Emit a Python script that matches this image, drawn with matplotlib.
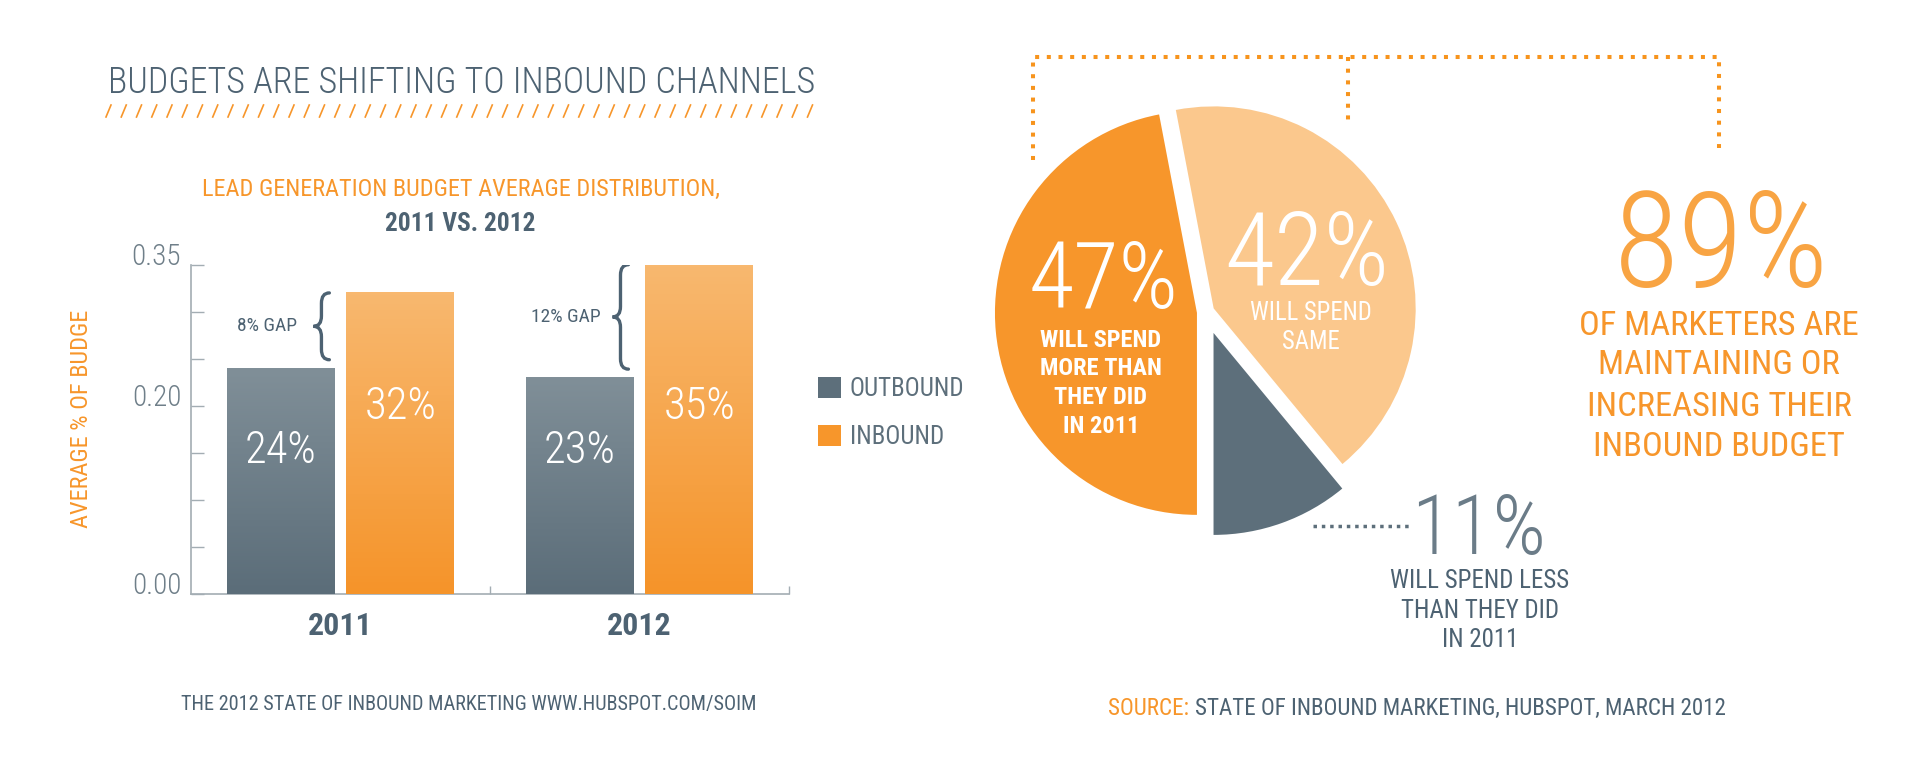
import numpy as np
import matplotlib.pyplot as plt
from matplotlib.colors import LinearSegmentedColormap
from matplotlib.path import Path
from matplotlib.patches import PathPatch

W, H = 1920, 758
plt.rcParams['font.family'] = ['Roboto Condensed', 'Liberation Sans Narrow', 'DejaVu Sans']

SLATE = '#4d6272'
GRAY = '#5d6f7b'
TICK = '#6f7f89'
ORANGE = '#f7962b'
LIGHT = '#fbc88d'
AXIS = '#a3adb3'

# bar chart data
years = ['2011', '2012']
outbound = [0.24, 0.23]
inbound = [0.32, 0.35]
yticks = [0.0, 0.20, 0.35]
yminor = [0.05, 0.10, 0.15, 0.25, 0.30]

# pie data : less, same, more
pie_values = [11, 42, 47]
pie_text = [['WILL SPEND LESS', 'THAN THEY DID', 'IN 2011'],
            ['WILL SPEND', 'SAME'],
            ['WILL SPEND', 'MORE THAN', 'THEY DID', 'IN 2011']]
claim = ['OF MARKETERS ARE', 'MAINTAINING OR', 'INCREASING THEIR', 'INBOUND BUDGET']

fig = plt.figure(figsize=(W / 100, H / 100), dpi=100)
fig.patch.set_facecolor('white')
R = fig.canvas.get_renderer()

# overlay in pixel coords for texts and decorations
ov = fig.add_axes([0, 0, 1, 1], zorder=10)
ov.set_xlim(0, W)
ov.set_ylim(H, 0)
ov.axis('off')


def fit(t, w, vertical=False):
    bb = t.get_window_extent(R)
    bw = bb.height if vertical else bb.width
    if bw > w:
        t.set_fontsize(t.get_fontsize() * w / bw)


def put(x, cy, s, cap, color, w=None, ha='center', weight='normal'):
    t = ov.text(x, cy + cap / 2, s, fontsize=cap, color=color, ha=ha,
                va='baseline', fontweight=weight)
    if w:
        fit(t, w)
    return t


def lines(x, ys, strs, cap, color, w, weight='normal'):
    ts = [put(x, y, s, cap, color, weight=weight) for y, s in zip(ys, strs)]
    widest = max(t.get_window_extent(R).width for t in ts)
    if widest > w:
        for t in ts:
            t.set_fontsize(cap * w / widest)


# ---------------- left panel ----------------
put(108, 79, 'BUDGETS ARE SHIFTING TO INBOUND CHANNELS', 28, SLATE, w=707, ha='left', weight='light')
for i in range(47):
    x0 = 106 + i * 15.25
    ov.plot([x0, x0 + 5], [117, 105], color=ORANGE, lw=1.2)

put(461, 185, 'LEAD GENERATION BUDGET AVERAGE DISTRIBUTION,', 22, ORANGE, w=519)
put(460.5, 220, '2011 VS. 2012', 22, SLATE, w=150, weight='bold')

yl = ov.text(81, 419, 'AVERAGE % OF BUDGE', rotation=90, ha='center', va='center',
             fontsize=18, color=ORANGE)
fit(yl, 218, vertical=True)

axb = fig.add_axes([190.9 / W, 1 - 594 / H, (789 - 190.9) / W, (594 - 264.7) / H])
x = np.arange(len(years))
b_out = axb.bar(x - 0.2, outbound, 0.36, color=GRAY, label='OUTBOUND', zorder=2)
b_in = axb.bar(x + 0.2, inbound, 0.36, color=ORANGE, label='INBOUND', zorder=2)

ramp = np.linspace(0, 1, 100).reshape(-1, 1)
for bars, cols in [(b_out, ('#5b6d79', '#808f98')), (b_in, ('#f5942a', '#f8b86f'))]:
    cmap = LinearSegmentedColormap.from_list('g', cols)
    for r in bars:
        axb.imshow(ramp, extent=[r.get_x(), r.get_x() + r.get_width(), 0, r.get_height()],
                   origin='lower', aspect='auto', cmap=cmap, zorder=3)

axb.set_xlim(-0.5, 1.5)
axb.set_ylim(0, 0.35)
axb.patch.set_visible(False)
for s in ['top', 'right']:
    axb.spines[s].set_visible(False)
for s in ['left', 'bottom']:
    axb.spines[s].set_color(AXIS)
    axb.spines[s].set_linewidth(1.2)

axb.set_yticks(yticks)
axb.set_yticklabels(['%.2f' % v for v in yticks])
axb.set_yticks(yminor, minor=True)
axb.tick_params(axis='y', which='both', direction='in', length=9, width=1, color=AXIS,
                pad=7, labelsize=21, labelcolor=TICK)
for lab in axb.get_yticklabels():
    lab.set_va('baseline')
    lab.set_fontweight('light')

axb.set_xticks(x)
axb.set_xticklabels(years, fontweight='bold')
axb.set_xticks([0.5, 1.5], minor=True)
axb.tick_params(axis='x', which='major', length=0, pad=12, labelsize=23, labelcolor=SLATE)
axb.tick_params(axis='x', which='minor', direction='in', length=6, width=1, color=AXIS)

dpp = 0.35 / 329.3  # data units per pixel
for i in range(len(years)):
    axb.text(x[i] - 0.2, 0.1566 - 16 * dpp, '%d%%' % round(outbound[i] * 100), color='white',
             fontsize=32, ha='center', va='baseline', fontweight='light', zorder=5)
    axb.text(x[i] + 0.2, 0.203 - 16 * dpp, '%d%%' % round(inbound[i] * 100), color='white',
             fontsize=32, ha='center', va='baseline', fontweight='light', zorder=5)

    # curly brace showing the gap
    y0, y1 = outbound[i] + 0.009, inbound[i]
    ym = (y0 + y1) / 2
    tip, arm = x[i] - 0.09, x[i] - 0.037
    mid = (tip + arm) / 2
    q = 0.011
    verts = [(arm, y1), (mid, y1), (mid, y1 - q), (mid, ym + q), (mid, ym), (tip, ym),
             (mid, ym), (mid, ym - q), (mid, y0 + q), (mid, y0), (arm, y0)]
    codes = [Path.MOVETO, Path.CURVE3, Path.CURVE3, Path.LINETO, Path.CURVE3, Path.CURVE3,
             Path.CURVE3, Path.CURVE3, Path.LINETO, Path.CURVE3, Path.CURVE3]
    axb.add_patch(PathPatch(Path(verts, codes), fill=False, edgecolor=SLATE, lw=2.4,
                            capstyle='round'))
    axb.text(x[i] - 0.245, ym, '%d%% GAP' % round((inbound[i] - outbound[i]) * 100),
             ha='center', va='center', fontsize=14, color=SLATE)

axb.legend(handles=[b_out, b_in], loc='upper left', bbox_to_anchor=(817.8 / W, 1 - 377 / H),
           bbox_transform=fig.transFigure, frameon=False, fontsize=18, handlelength=0.92,
           handleheight=0.9, handletextpad=0.35, labelspacing=0.95, borderpad=0,
           borderaxespad=0, labelcolor=GRAY)

put(469, 701.7, 'THE 2012 STATE OF INBOUND MARKETING WWW.HUBSPOT.COM/SOIM', 16, SLATE, w=578)

# ---------------- right panel ----------------
cx, cy, rad = 1206, 312, 202
half = rad * 1.5
axp = fig.add_axes([(cx - half) / W, (H - cy - half) / H, 2 * half / W, 2 * half / H])
axp.pie(pie_values, colors=[GRAY, LIGHT, ORANGE], startangle=-90, counterclock=True,
        explode=[0.11, 0.042, 0.045], radius=1, wedgeprops=dict(linewidth=0))
axp.set_xlim(-1.5, 1.5)
axp.set_ylim(-1.5, 1.5)
axp.axis('off')

# dotted brackets
dots = dict(color='#f7941d', lw=2.9, ls=(0, (1, 1.9)), dash_capstyle='butt')
ov.plot([1033.3, 1033.3, 1719.3, 1719.3], [160, 56.7, 56.7, 148.3], **dots)
ov.plot([1347.7, 1347.7], [56.7, 125.7], **dots)
ov.plot([1313, 1410], [525.7, 525.7], color=GRAY, lw=2.5, ls=(0, (1, 1.4)))

put(1104, 268, '%d%%' % pie_values[2], 80, 'white', w=150, weight='light')
lines(1101, [336.7, 365, 393.7, 423], pie_text[2], 20, 'white', 122, weight='bold')
put(1307, 244, '%d%%' % pie_values[1], 82, 'white', w=165, weight='light')
lines(1311, [310, 339], pie_text[1], 20, 'white', 122)
put(1479, 514, '%d%%' % pie_values[0], 80, '#6b7c88', w=135, weight='light')
lines(1480, [579, 608.8, 637.8], pie_text[0], 18, SLATE, 179)

put(1721, 229, '%d%%' % (pie_values[1] + pie_values[2]), 115, '#f8a443', w=215, weight='light')
lines(1719, [322, 361.5, 402.7, 443], claim, 26, ORANGE, 280)

# source line
t1 = put(1108, 706.7, 'SOURCE:', 16.7, ORANGE, ha='left')
t2 = put(1108, 706.7, 'STATE OF INBOUND MARKETING, HUBSPOT, MARCH 2012', 16.7, SLATE, ha='left')
gap = 6
tot = t1.get_window_extent(R).width + t2.get_window_extent(R).width + gap
if tot > 615:
    for t in (t1, t2):
        t.set_fontsize(16.7 * 615 / tot)
t2.set_x(1108 + t1.get_window_extent(R).width + gap)

fig.savefig('out.png', dpi=100, facecolor='white')
